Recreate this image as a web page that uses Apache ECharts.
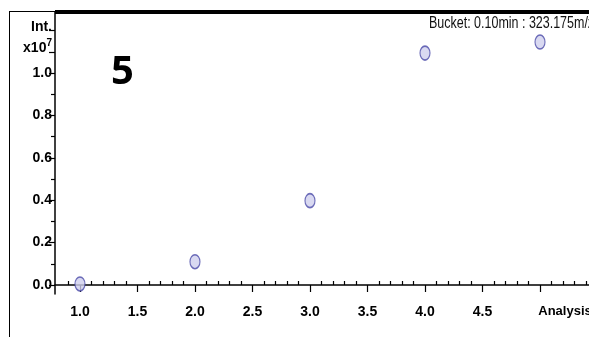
<!DOCTYPE html>
<html>
<head>
<meta charset="utf-8">
<script src="https://cdn.jsdelivr.net/npm/echarts@6/dist/echarts.min.js"></script>
<style>
  html, body { margin: 0; padding: 0; background: #fff; }
  #chart { width: 589px; height: 337px; }
</style>
</head>
<body>
<div id="chart"></div>
<script>
// Intensity (x10^7) per analysis number
const analysisNo = [1, 2, 3, 4, 5];
const intensity = [0.005, 0.11, 0.398, 1.094, 1.146];

// Axis ticks and labels
const xMajorTicks = [1.0, 1.5, 2.0, 2.5, 3.0, 3.5, 4.0, 4.5, 5.0];
const xMinorTicks = [0.9, 1.1, 1.2, 1.3, 1.4, 1.6, 1.7, 1.8, 1.9, 2.1, 2.2, 2.3, 2.4,
  2.6, 2.7, 2.8, 2.9, 3.1, 3.2, 3.3, 3.4, 3.6, 3.7, 3.8, 3.9, 4.1, 4.2, 4.3, 4.4,
  4.6, 4.7, 4.8, 4.9, 5.1, 5.2, 5.3, 5.4];
const yMajorTicks = [0.0, 0.2, 0.4, 0.6, 0.8, 1.0, 1.1, 1.2];
const yMinorTicks = [0.1, 0.3, 0.5, 0.7, 0.9];

const titleText = 'Bucket: 0.10min : 323.175m/z';
const panelLabel = '5';
const xEndLabel = 'Analysis';
const yUnitLabel = 'Int.';

const tickFont = {
  fontFamily: '"Liberation Sans", Arial, sans-serif',
  fontWeight: 'bold',
  fontSize: 14,
  color: '#000'
};

const chart = echarts.init(document.getElementById('chart'));

const xRange = { min: 0.783, max: 5.426 };
const yRange = { min: -0.0425, max: 1.288 };

chart.setOption({
  animation: false,
  backgroundColor: '#fff',
  grid: { left: 55, right: 0, top: 12, bottom: 43, containLabel: false, outerBoundsMode: 'none' },
  xAxis: [{
    type: 'value', ...xRange,
    splitLine: { show: false },
    axisLine: { show: true, lineStyle: { color: '#000', width: 1.5 } },
    axisTick: { show: true, length: 7, customValues: xMajorTicks, lineStyle: { color: '#000', width: 1.2 } },
    axisLabel: {
      show: true, margin: 11, customValues: xMajorTicks, ...tickFont,
      hideOverlap: false,
      formatter: v => (Math.abs(v - 5) < 1e-6 ? '{a|' + xEndLabel + '}' : v.toFixed(1)),
      rich: { a: { ...tickFont, fontSize: 13, padding: [0, 0, 0, 50] } }
    }
  }, {
    type: 'value', ...xRange,
    splitLine: { show: false },
    axisLine: { show: false },
    axisTick: { show: true, length: 4, customValues: xMinorTicks, lineStyle: { color: '#000', width: 1.2 } },
    axisLabel: { show: false }
  }],
  yAxis: [{
    type: 'value', ...yRange,
    splitLine: { show: false },
    axisLine: { show: true, lineStyle: { color: '#000', width: 1.5 } },
    axisTick: { show: true, length: 6, customValues: yMajorTicks, lineStyle: { color: '#000', width: 1.2 } },
    axisLabel: {
      show: true, margin: 3, customValues: yMajorTicks, ...tickFont,
      hideOverlap: false,
      formatter: v => {
        if (Math.abs(v - 1.2) < 1e-6) return '{u|' + yUnitLabel + '}';
        if (Math.abs(v - 1.1) < 1e-6) return '{m|x10}{s|7}';
        return v.toFixed(1);
      },
      rich: {
        u: { ...tickFont, padding: [0, 0, 8, 0] },
        m: { ...tickFont, padding: [0, 0, 8, 0] },
        s: { ...tickFont, fontSize: 10, verticalAlign: 'top', padding: [0, 0, 18, 0] }
      }
    }
  }, {
    type: 'value', ...yRange, position: 'left',
    splitLine: { show: false },
    axisLine: { show: false },
    axisTick: { show: true, length: 4, customValues: yMinorTicks, lineStyle: { color: '#000', width: 1.2 } },
    axisLabel: { show: false }
  }],
  graphic: [
    // outer frame: thin left edge and top edge, heavy top rule over the plot
    { type: 'line', shape: { x1: 9.5, y1: 11, x2: 9.5, y2: 337 }, style: { stroke: '#000', lineWidth: 1 } },
    { type: 'line', shape: { x1: 9, y1: 11.5, x2: 56, y2: 11.5 }, style: { stroke: '#000', lineWidth: 1 } },
    { type: 'line', shape: { x1: 55, y1: 12, x2: 589, y2: 12 }, style: { stroke: '#000', lineWidth: 4 } },
    {
      // condensed header text
      type: 'text', x: 429, y: 24, scaleX: 0.78, originX: 0, originY: 0,
      style: {
        text: titleText, fill: '#111',
        font: '16px "Liberation Sans", Arial, sans-serif',
        textVerticalAlign: 'middle'
      }
    },
    {
      type: 'text', x: 111, y: 53,
      style: {
        text: panelLabel, fill: '#000',
        font: 'bold 40px "Open Sans", "Noto Sans", sans-serif'
      }
    }
  ],
  series: [{
    type: 'scatter',
    xAxisIndex: 0, yAxisIndex: 0,
    symbol: 'circle',
    symbolSize: [10, 14],
    itemStyle: { color: '#cfcfee', borderColor: '#4a4aa8', borderWidth: 1.3 },
    data: analysisNo.map((x, i) => [x, intensity[i]])
  }]
});
</script>
</body>
</html>
